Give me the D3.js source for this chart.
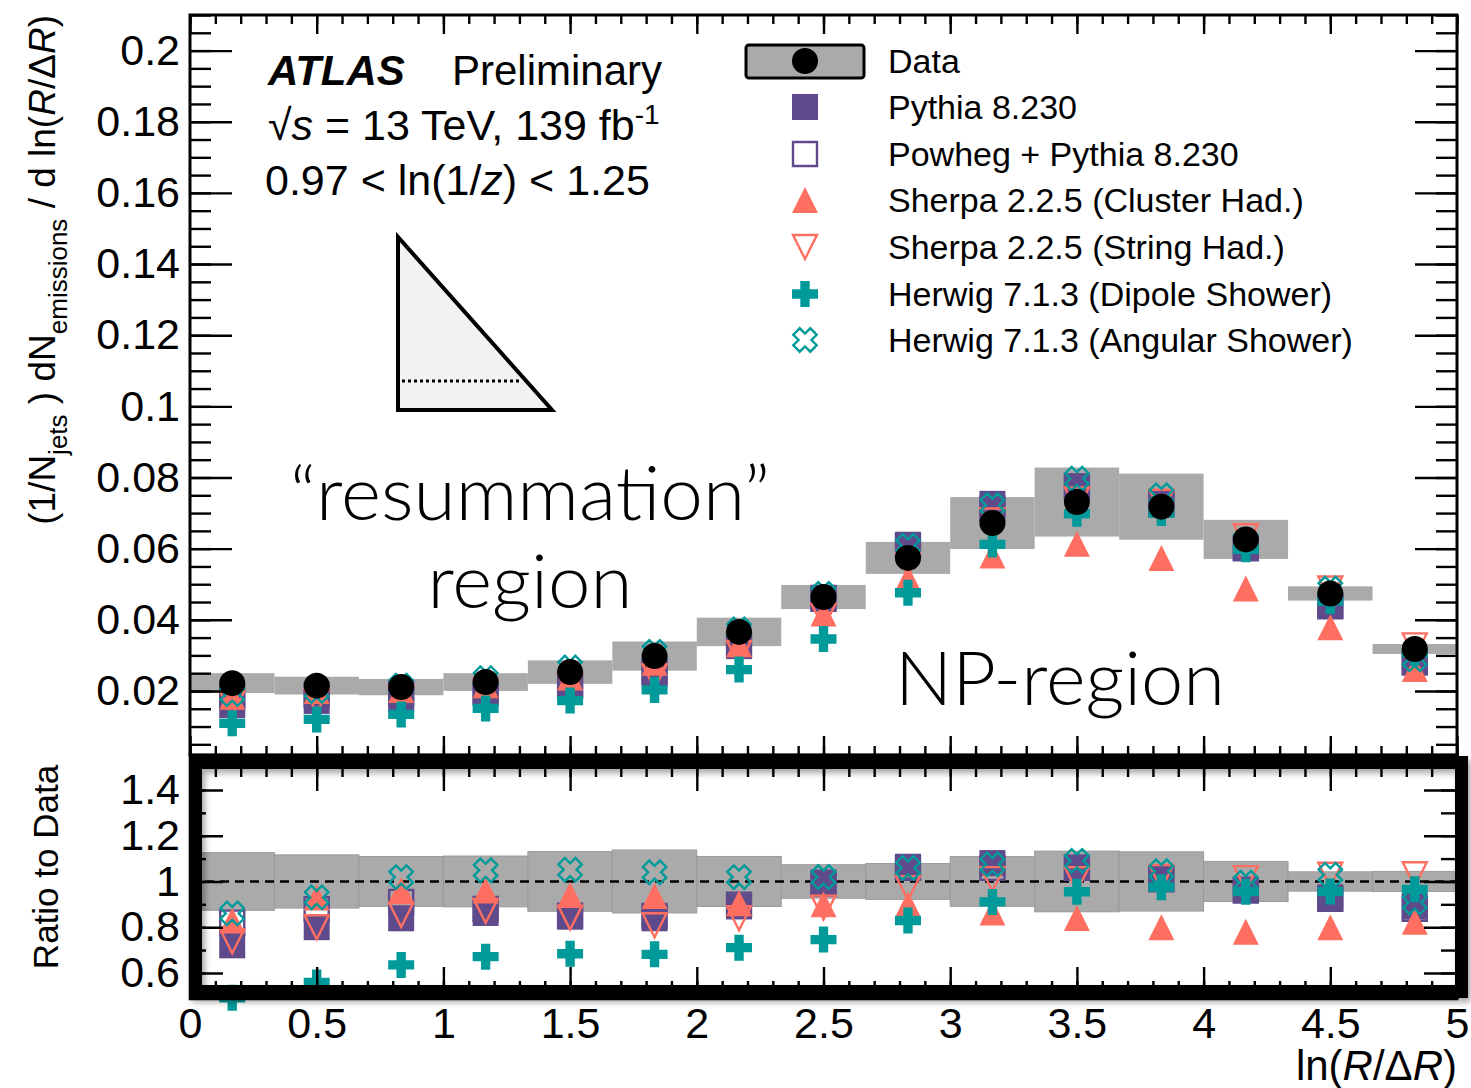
<!DOCTYPE html>
<html>
<head>
<meta charset="utf-8">
<script src="https://cdn.jsdelivr.net/npm/d3@7"></script>
<style>
  body { margin: 0; background: #fff; }
  svg { display: block; }
  text { font-family: "Liberation Sans", Arial, Helvetica, sans-serif; fill: #000; }
</style>
</head>
<body>
<div id="chart"></div>
<script>
// Binning in ln(R/dR)
const binEdges = [0, 0.3333, 0.6667, 1, 1.3333, 1.6667, 2, 2.3333, 2.6667, 3, 3.3333, 3.6667, 4, 4.3333, 4.6667, 5];

// Unfolded data and its total uncertainty
const dataVals = [0.0222, 0.0215, 0.0211, 0.0225, 0.0253, 0.0298, 0.0366, 0.0464, 0.0574, 0.0672, 0.0731, 0.0718, 0.0626, 0.0474, 0.0318];
const dataSys  = [0.0028, 0.0025, 0.0023, 0.0025, 0.0033, 0.0041, 0.0040, 0.0034, 0.0045, 0.0073, 0.0097, 0.0093, 0.0055, 0.0020, 0.0014];

// MC predictions
const pythia  = [0.0160, 0.0172, 0.0177, 0.0194, 0.0214, 0.0250, 0.0326, 0.0462, 0.0611, 0.0726, 0.0775, 0.0729, 0.0604, 0.0441, 0.0283];
const powheg  = [0.0182, 0.0189, 0.0192, 0.0198, 0.0215, 0.0253, 0.0329, 0.0459, 0.0608, 0.0712, 0.0775, 0.0725, 0.0601, 0.0438, 0.0280];
const sherpaCluster = [0.0184, 0.0200, 0.0203, 0.0216, 0.0238, 0.0279, 0.0331, 0.0418, 0.0517, 0.0581, 0.0614, 0.0574, 0.0488, 0.0379, 0.0262];
const sherpaString  = [0.0164, 0.0172, 0.0180, 0.0196, 0.0213, 0.0241, 0.0307, 0.0411, 0.0557, 0.0679, 0.0738, 0.0732, 0.0635, 0.0488, 0.0328];
const herwigDipole  = [0.0109, 0.0120, 0.0134, 0.0151, 0.0173, 0.0203, 0.0260, 0.0346, 0.0476, 0.0612, 0.0698, 0.0700, 0.0598, 0.0453, 0.0307];
const herwigAngular = [0.0191, 0.0200, 0.0215, 0.0236, 0.0266, 0.0310, 0.0373, 0.0473, 0.0608, 0.0722, 0.0797, 0.0750, 0.0623, 0.0488, 0.0289];

// Tick values
const xTicks = [0, 0.5, 1, 1.5, 2, 2.5, 3, 3.5, 4, 4.5, 5];
const mainYTicks = [0.02, 0.04, 0.06, 0.08, 0.1, 0.12, 0.14, 0.16, 0.18, 0.2];
const ratioYTicks = [0.6, 0.8, 1, 1.2, 1.4];

const purple = '#5f4b8b';
const coral = '#ff6f61';
const teal = '#009a9a';
const bandGrey = '#aaaaaa';

const series = [
	{ name: 'Pythia 8.230', vals: pythia, shape: 'square', fill: purple, stroke: 'none' },
	{ name: 'Powheg + Pythia 8.230', vals: powheg, shape: 'square', fill: 'none', stroke: purple },
	{ name: 'Sherpa 2.2.5 (Cluster Had.)', vals: sherpaCluster, shape: 'triUp', fill: coral, stroke: 'none' },
	{ name: 'Sherpa 2.2.5 (String Had.)', vals: sherpaString, shape: 'triDown', fill: 'none', stroke: coral },
	{ name: 'Herwig 7.1.3 (Dipole Shower)', vals: herwigDipole, shape: 'plus', fill: teal, stroke: 'none' },
	{ name: 'Herwig 7.1.3 (Angular Shower)', vals: herwigAngular, shape: 'xOpen', fill: 'none', stroke: teal }
];

const width = 1471;
const height = 1088;
const frameLeft = 190, frameRight = 1457;
const mainTop = 15, mainBottom = 755;
const ratioTop = 755, ratioBottom = 999;

const svg = d3.select('#chart')
	.append('svg')
	.attr('width', width)
	.attr('height', height)
	.attr('viewBox', [0, 0, width, height]);

const defs = svg.append('defs');
defs.append('filter')
	.attr('id', 'shadow')
	.attr('x', '-5%').attr('y', '-10%').attr('width', '110%').attr('height', '120%')
	.append('feDropShadow')
	.attr('dx', 3).attr('dy', 4)
	.attr('stdDeviation', 3)
	.attr('flood-color', '#000')
	.attr('flood-opacity', 0.35);

const x = d3.scaleLinear().domain([0, 5]).range([frameLeft, frameRight]);
const yMain = d3.scaleLinear().domain([0.002, 0.21]).range([mainBottom, mainTop]);
const yRatio = d3.scaleLinear().domain([0.486, 1.553]).range([ratioBottom, ratioTop]);

const bins = dataVals.map((d, i) => ({
	lo: binEdges[i],
	hi: binEdges[i + 1],
	c: (binEdges[i] + binEdges[i + 1]) / 2,
	v: d,
	err: dataSys[i]
}));

// marker shapes, s = full size in px
function markerPath(shape, s) {
	const h = s / 2;
	if (shape === 'square') return `M${-h},${-h}H${h}V${h}H${-h}Z`;
	if (shape === 'triUp') return `M0,${-h}L${h},${h}L${-h},${h}Z`;
	if (shape === 'triDown') return `M0,${h}L${h},${-h}L${-h},${-h}Z`;
	if (shape === 'plus') {
		const w = s * 0.18;
		return `M${-w},${-h}H${w}V${-w}H${h}V${w}H${w}V${h}H${-w}V${w}H${-h}V${-w}H${-w}Z`;
	}
	if (shape === 'xOpen') {
		const w = s * 0.19, L = s * 0.5;
		const pts = [[w, L], [w, w], [L, w], [L, -w], [w, -w], [w, -L], [-w, -L], [-w, -w], [-L, -w], [-L, w], [-w, w], [-w, L]];
		const r = pts.map(([px, py]) => [(px - py) / Math.SQRT2, (px + py) / Math.SQRT2]);
		return 'M' + r.map((p) => p[0].toFixed(2) + ',' + p[1].toFixed(2)).join('L') + 'Z';
	}
	return '';
}

function drawMarker(g, sr, cx, cy) {
	const open = sr.fill === 'none';
	g.append('path')
		.attr('transform', `translate(${cx},${cy})`)
		.attr('d', markerPath(sr.shape, open ? 24 : 26))
		.attr('fill', sr.fill)
		.attr('stroke', sr.stroke)
		.attr('stroke-width', open ? 2.4 : 0)
		.attr('stroke-linejoin', 'miter');
}

// ---------------- main panel ----------------
const main = svg.append('g');

main.selectAll('rect.band')
	.data(bins)
	.join('rect')
	.attr('class', 'band')
	.attr('x', (d) => x(d.lo))
	.attr('width', (d) => x(d.hi) - x(d.lo))
	.attr('y', (d) => yMain(d.v + d.err))
	.attr('height', (d) => yMain(d.v - d.err) - yMain(d.v + d.err))
	.attr('fill', bandGrey);

series.forEach((sr) => {
	const g = main.append('g');
	sr.vals.forEach((v, i) => drawMarker(g, sr, x(bins[i].c), yMain(v)));
});

main.selectAll('circle.data')
	.data(bins)
	.join('circle')
	.attr('class', 'data')
	.attr('cx', (d) => x(d.c))
	.attr('cy', (d) => yMain(d.v))
	.attr('r', 13)
	.attr('fill', '#000');

// ---------------- ratio panel ----------------
const ratio = svg.append('g');

ratio.selectAll('rect.rband')
	.data(bins)
	.join('rect')
	.attr('class', 'rband')
	.attr('x', (d) => x(d.lo))
	.attr('width', (d) => x(d.hi) - x(d.lo))
	.attr('y', (d) => yRatio(1 + d.err / d.v))
	.attr('height', (d) => yRatio(1 - d.err / d.v) - yRatio(1 + d.err / d.v))
	.attr('fill', bandGrey)
	.attr('stroke', '#9a9a9a')
	.attr('stroke-width', 1);

ratio.append('line')
	.attr('x1', frameLeft).attr('x2', frameRight)
	.attr('y1', yRatio(1)).attr('y2', yRatio(1))
	.attr('stroke', '#000')
	.attr('stroke-width', 2.5)
	.attr('stroke-dasharray', '9,6');

series.forEach((sr) => {
	const g = ratio.append('g');
	sr.vals.forEach((v, i) => drawMarker(g, sr, x(bins[i].c), yRatio(v / dataVals[i])));
});

// ---------------- axes ----------------
function minorRange(lo, hi, step) {
	const out = [];
	for (let v = lo; v <= hi + 1e-9; v += step) out.push(+v.toFixed(4));
	return out;
}

function styleAxis(g) {
	g.select('.domain').remove();
	g.selectAll('line').attr('stroke', '#000').attr('stroke-width', 2.4);
	g.selectAll('text').attr('font-size', 43).attr('fill', '#000');
	g.attr('font-family', null).attr('font-size', null);
}

function yAxes(yScale, major, minor, majLen, minLen, labels) {
	const left = svg.append('g').attr('transform', `translate(${frameLeft},0)`);
	left.call(d3.axisLeft(yScale).tickValues(minor).tickSize(-minLen).tickFormat('')).call(styleAxis);
	const leftMaj = svg.append('g').attr('transform', `translate(${frameLeft},0)`);
	leftMaj.call(d3.axisLeft(yScale).tickValues(major).tickSize(-majLen).tickPadding(10)
		.tickFormat(labels ? (d) => String(d) : '')).call(styleAxis);
	const right = svg.append('g').attr('transform', `translate(${frameRight},0)`);
	right.call(d3.axisRight(yScale).tickValues(minor).tickSize(-minLen).tickFormat('')).call(styleAxis);
	right.append('g').call(d3.axisRight(yScale).tickValues(major).tickSize(-majLen).tickFormat('')).call(styleAxis);
}

function xAxis(yPos, dir, majLen, minLen, labels) {
	const mk = dir === 'top' ? d3.axisTop : d3.axisBottom;
	const g = svg.append('g').attr('transform', `translate(0,${yPos})`);
	g.call(mk(x).tickValues(minorRange(0, 5, 0.1)).tickSize(-minLen).tickFormat('')).call(styleAxis);
	const gm = svg.append('g').attr('transform', `translate(0,${yPos})`);
	gm.call(mk(x).tickValues(xTicks).tickSize(-majLen).tickPadding(8)
		.tickFormat(labels ? (d) => String(d) : '')).call(styleAxis);
}

yAxes(yMain, mainYTicks, minorRange(0.005, 0.21, 0.005), 42, 21, true);
xAxis(mainTop, 'top', 19, 9, false);
xAxis(mainBottom, 'bottom', 19, 9, false);

svg.append('rect')
	.attr('x', frameLeft).attr('y', mainTop)
	.attr('width', frameRight - frameLeft).attr('height', mainBottom - mainTop)
	.attr('fill', 'none').attr('stroke', '#000').attr('stroke-width', 3);

yAxes(yRatio, ratioYTicks, minorRange(0.5, 1.5, 0.1), 33, 16, true);
xAxis(ratioTop, 'top', 36, 22, false);
xAxis(ratioBottom, 'bottom', 32, 18, true);

svg.append('rect')
	.attr('x', frameLeft).attr('y', ratioTop)
	.attr('width', frameRight - frameLeft).attr('height', ratioBottom - ratioTop)
	.attr('fill', 'none').attr('stroke', '#000').attr('stroke-width', 2.5);

// highlight box round the ratio panel
svg.append('rect')
	.attr('x', 195.5).attr('y', 762.5)
	.attr('width', 1266).attr('height', 229)
	.attr('fill', 'none')
	.attr('stroke', '#000')
	.attr('stroke-width', 13)
	.attr('filter', 'url(#shadow)');

// ---------------- axis titles ----------------
const yTitle = svg.append('text')
	.attr('transform', 'translate(55,15) rotate(-90)')
	.attr('text-anchor', 'end')
	.attr('font-size', 37);
yTitle.append('tspan').text('(1/N');
yTitle.append('tspan').attr('font-size', 26).attr('dy', 12).text('jets');
yTitle.append('tspan').attr('dy', -12).text(' ) dN');
yTitle.append('tspan').attr('font-size', 26).attr('dy', 12).text('emissions');
yTitle.append('tspan').attr('dy', -12).text('  / d ln(');
yTitle.append('tspan').attr('font-style', 'italic').text('R');
yTitle.append('tspan').text('/Δ');
yTitle.append('tspan').attr('font-style', 'italic').text('R');
yTitle.append('tspan').text(')');

svg.append('text')
	.attr('transform', 'translate(58,867) rotate(-90)')
	.attr('text-anchor', 'middle')
	.attr('font-size', 35)
	.text('Ratio to Data');

const xTitle = svg.append('text')
	.attr('x', frameRight)
	.attr('y', 1080)
	.attr('text-anchor', 'end')
	.attr('font-size', 42);
xTitle.append('tspan').text('ln(');
xTitle.append('tspan').attr('font-style', 'italic').text('R');
xTitle.append('tspan').text('/Δ');
xTitle.append('tspan').attr('font-style', 'italic').text('R');
xTitle.append('tspan').text(')');

// ---------------- ATLAS labels ----------------
svg.append('text')
	.attr('x', 268).attr('y', 85)
	.attr('font-size', 42).attr('font-weight', 'bold').attr('font-style', 'italic')
	.text('ATLAS');
svg.append('text')
	.attr('x', 452).attr('y', 85)
	.attr('font-size', 42)
	.text('Preliminary');

const energy = svg.append('text').attr('x', 268).attr('y', 140).attr('font-size', 43);
energy.append('tspan').text('√');
energy.append('tspan').attr('font-style', 'italic').text('s');
energy.append('tspan').text(' = 13 TeV, 139 fb');
energy.append('tspan').attr('font-size', 28).attr('dy', -16).text('-1');

const cut = svg.append('text').attr('x', 265).attr('y', 195).attr('font-size', 43);
cut.append('tspan').text('0.97 < ln(1/');
cut.append('tspan').attr('font-style', 'italic').text('z');
cut.append('tspan').text(') < 1.25');

// ---------------- legend ----------------
const legendY = [61, 107, 154, 200, 247, 294, 340];
const legendMarkerX = 805;
const legendTextX = 888;
const lg = svg.append('g');

lg.append('rect')
	.attr('x', 746).attr('y', 45)
	.attr('width', 118).attr('height', 33)
	.attr('rx', 3)
	.attr('fill', bandGrey)
	.attr('stroke', '#000')
	.attr('stroke-width', 3);
lg.append('circle').attr('cx', legendMarkerX).attr('cy', legendY[0]).attr('r', 13).attr('fill', '#000');
lg.append('text').attr('x', legendTextX).attr('y', legendY[0] + 12).attr('font-size', 34).text('Data');

series.forEach((sr, i) => {
	drawMarker(lg, sr, legendMarkerX, legendY[i + 1]);
	lg.append('text')
		.attr('x', legendTextX)
		.attr('y', legendY[i + 1] + 12)
		.attr('font-size', 34)
		.text(sr.name);
});

// ---------------- region sketch ----------------
svg.append('path')
	.attr('d', 'M398,237L398,410L552,410Z')
	.attr('fill', '#f2f2f2')
	.attr('stroke', '#000')
	.attr('stroke-width', 4)
	.attr('stroke-linejoin', 'miter');
svg.append('line')
	.attr('x1', 402).attr('x2', 520)
	.attr('y1', 381).attr('y2', 381)
	.attr('stroke', '#000')
	.attr('stroke-width', 3)
	.attr('stroke-dasharray', '3,3');

// thin display face for the hand-made region labels (style, so it beats the css rule)
const bigFont = 'Lato, Roboto, "Open Sans", sans-serif';
function bigLabel(txt, xPos, yPos, anchor, len) {
	svg.append('text')
		.attr('x', xPos).attr('y', yPos)
		.attr('text-anchor', anchor)
		.style('font-family', bigFont)
		.style('font-weight', 300)
		.attr('font-size', 74)
		.attr('textLength', len)
		.attr('lengthAdjust', 'spacingAndGlyphs')
		.text(txt);
}
bigLabel('\u201cresummation\u201d', 530, 520, 'middle', 480);
bigLabel('region', 530, 608, 'middle', 205);
bigLabel('NP-region', 895, 705, 'start', 330);
</script>
</body>
</html>
